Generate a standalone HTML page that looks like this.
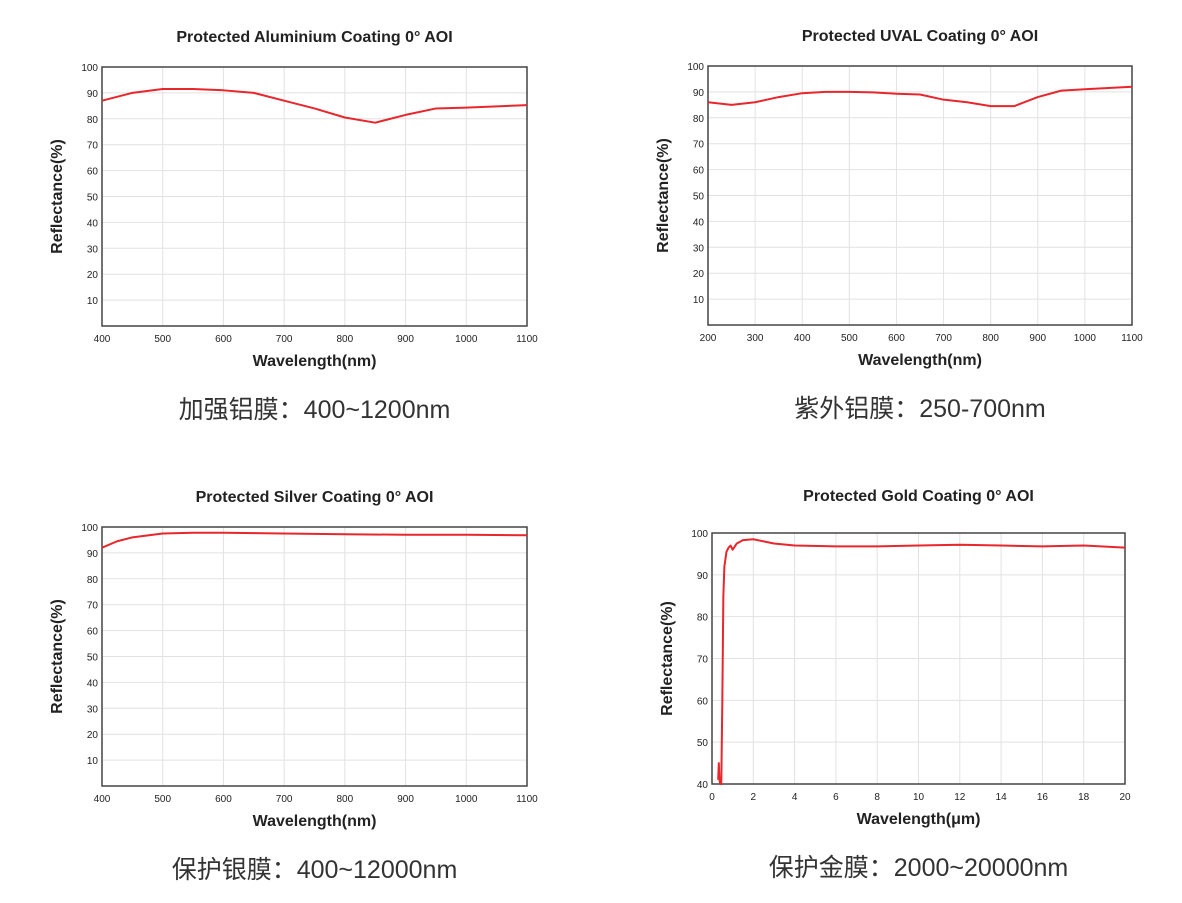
<!DOCTYPE html>
<html><head><meta charset="utf-8">
<style>
body{margin:0;background:#fff;width:1182px;height:903px;overflow:hidden;font-family:"Liberation Sans","Noto Sans CJK SC",sans-serif;}
svg{position:absolute;left:0;top:0}
</style></head>
<body>
<svg id="s" width="1182" height="903"></svg>
<script>
const alX=[400,450,500,550,600,650,700,750,800,850,900,950,1000,1050,1100];
const alY=[87,90,91.5,91.5,91,90,87,84,80.5,78.5,81.5,84,84.3,84.8,85.3];
const uvX=[200,250,300,350,400,450,500,550,600,650,700,750,800,850,900,950,1000,1050,1100];
const uvY=[86,85,86,88,89.5,90,90,89.8,89.3,89,87,86,84.5,84.5,88,90.5,91,91.5,92];
const agX=[400,425,450,500,550,600,700,800,900,1000,1100];
const agY=[92,94.5,96,97.5,97.8,97.8,97.5,97.2,97,97,96.8];
const auX=[0.3,0.33,0.36,0.4,0.45,0.5,0.55,0.6,0.7,0.8,0.9,1.0,1.2,1.5,2,2.5,3,4,6,8,10,12,14,16,18,20];
const auY=[41,45,41,40,40,60,85,92,95.5,96.5,97,96,97.5,98.3,98.5,98,97.5,97,96.8,96.8,97,97.2,97,96.8,97,96.5];
const tNm12=[400,500,600,700,800,900,1000,1100];
const tUv=[200,300,400,500,600,700,800,900,1000,1100];
const tAu=[0,2,4,6,8,10,12,14,16,18,20];
const yT10=[10,20,30,40,50,60,70,80,90,100];
const yT40=[40,50,60,70,80,90,100];
const NS='http://www.w3.org/2000/svg';
const svg=document.getElementById('s');
function el(t,a,p){const e=document.createElementNS(NS,t);for(const k in a)e.setAttribute(k,a[k]);(p||svg).appendChild(e);return e;}
function txt(x,y,s,size,weight,anchor,p,rot){const e=el('text',{x:x,y:y,'font-size':size,'font-weight':weight,'text-anchor':anchor,fill:'#222'},p);if(rot)e.setAttribute('transform','rotate(-90 '+x+' '+y+')');e.textContent=s;return e;}
function chart(id,L,R,T,B,xmin,xmax,ymin,ymax,xt,yt,xs,ys,title,xlabel,sub,titleOff){
  const g=el('g',{});
  
  
  const sx=v=>L+(v-xmin)/(xmax-xmin)*(R-L);
  const sy=v=>B-(v-ymin)/(ymax-ymin)*(B-T);
  xt.forEach(v=>{const l=el('line',{x1:sx(v),x2:sx(v),y1:T,y2:B,stroke:'#e2e2e2','stroke-width':1},g);
    const t=txt(sx(v),B+16,v,10,'normal','middle',g);});
  yt.forEach(v=>{const l=el('line',{x1:L,x2:R,y1:sy(v),y2:sy(v),stroke:'#e2e2e2','stroke-width':1},g);
    const t=txt(L-4,sy(v)+4,v,10,'normal','end',g);});
  const r=el('rect',{x:L,y:T,width:R-L,height:B-T,fill:'none',stroke:'#444','stroke-width':1.5},g);
  
  const p=el('polyline',{points:xs.map((v,i)=>sx(v)+','+sy(ys[i])).join(' '),fill:'none',stroke:'#e8262b','stroke-width':2,'stroke-linejoin':'round'},g);
  
  const ti=txt((L+R)/2,T-titleOff,title,16,'bold','middle',g);
  const xl=txt((L+R)/2,B+40,xlabel,16,'bold','middle',g);
  const yl=txt(L-40,(T+B)/2,'Reflectance(%)',16,'bold','middle',g,true);
  const su=txt((L+R)/2,B+92,sub,25,'normal','middle',g);su.setAttribute('fill','#333');
}
chart('aluminium-chart',102,527,67,326,400,1100,0,100,tNm12,yT10,alX,alY,'Protected Aluminium Coating 0° AOI','Wavelength(nm)','加强铝膜：400~1200nm',25);
chart('uval-chart',708,1132,66,325,200,1100,0,100,tUv,yT10,uvX,uvY,'Protected UVAL Coating 0° AOI','Wavelength(nm)','紫外铝膜：250-700nm',25);
chart('silver-chart',102,527,527,786,400,1100,0,100,tNm12,yT10,agX,agY,'Protected Silver Coating 0° AOI','Wavelength(nm)','保护银膜：400~12000nm',25);
chart('gold-chart',712,1125,533,784,0,20,40,100,tAu,yT40,auX,auY,'Protected Gold Coating 0° AOI','Wavelength(μm)','保护金膜：2000~20000nm',32);
</script>
</body></html>
